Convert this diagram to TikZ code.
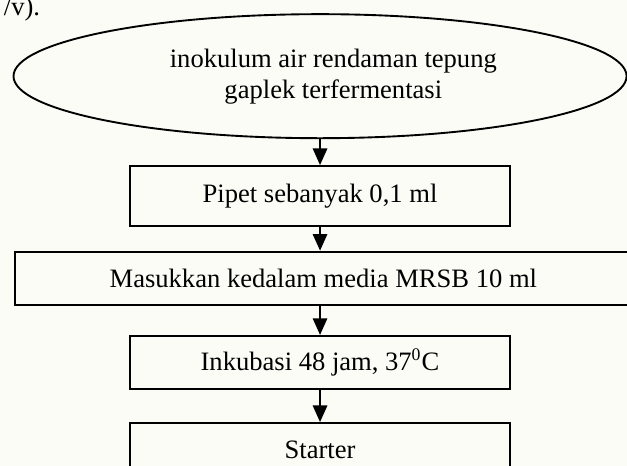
\documentclass[tikz,border=0pt]{standalone}
\usepackage{fontspec}
\setmainfont{Liberation Serif}
\usetikzlibrary{shapes.geometric, arrows.meta, positioning}
\definecolor{paper}{RGB}{252,252,246}

\begin{document}
\begin{tikzpicture}[>={Triangle[length=7.5pt,width=6.5pt]}, font=\fontsize{12}{14}\selectfont, line width=0.85pt, box/.style={draw, align=center, minimum width=171.6pt, minimum height=24pt, inner sep=0pt}]
\useasboundingbox[fill=paper] (0,0) rectangle (283.1pt,-210.4pt);
\node[anchor=base east, inner sep=0pt] (cut) at (18.5pt,-6.8pt) {/v).};
\node[draw, ellipse, minimum width=276.8pt, minimum height=56pt, inner sep=0pt] (ino) at (144.5pt,-34.4pt) {};
\node[align=center, inner sep=0pt, xshift=6pt] (inotext) at (ino.center) {inokulum air rendaman tepung\\gaplek terfermentasi};
\node[box, minimum height=27pt, below=11.7pt of ino] (pipet) {Pipet sebanyak 0,1 ml};
\node[box, minimum width=278.6pt, below=10.8pt of pipet, xshift=1.5pt] (mrsb) {Masukkan kedalam media MRSB 10 ml};
\node[box, below=13.2pt of mrsb, xshift=-1.5pt] (inkub) {Inkubasi 48 jam, 37\textsuperscript{0}C};
\node[box, below=14.5pt of inkub] (starter) {Starter};
\draw[->] (ino) -- (pipet);
\draw[->] (pipet) -- (pipet |- mrsb.north);
\draw[->] (inkub |- mrsb.south) -- (inkub);
\draw[->] (inkub) -- (starter);
\end{tikzpicture}
\end{document}
